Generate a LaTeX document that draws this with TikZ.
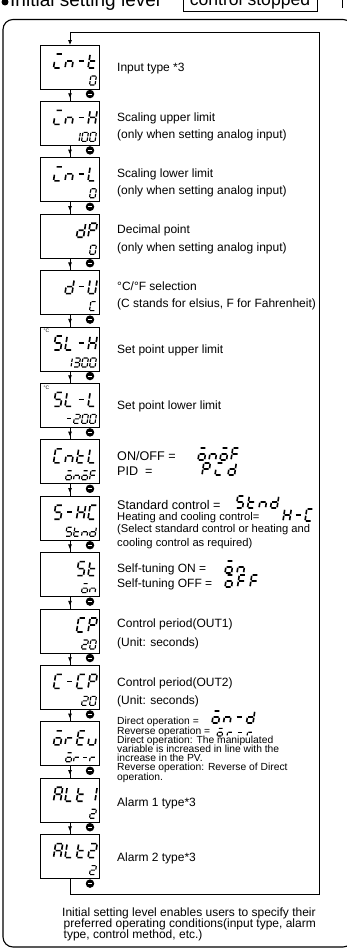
\documentclass[tikz,border=0pt]{standalone}
\usepackage{fontspec}
\setmainfont{Liberation Sans}
\usetikzlibrary{arrows.meta,calc}
\tikzset{
  ssd a/.style={insert path={(0.13,2)--(0.87,2)}},
  ssd b/.style={insert path={(1,1.87)--(1,1.13)}},
  ssd c/.style={insert path={(1,0.87)--(1,0.13)}},
  ssd d/.style={insert path={(0.13,0)--(0.87,0)}},
  ssd e/.style={insert path={(0,0.87)--(0,0.13)}},
  ssd f/.style={insert path={(0,1.87)--(0,1.13)}},
  ssd g/.style={insert path={(0.13,1)--(0.87,1)}},
  ssdc 0/.style={ssd a,ssd b,ssd c,ssd d,ssd e,ssd f},
  ssdc 1/.style={ssd b,ssd c},
  ssdc 2/.style={ssd a,ssd b,ssd g,ssd e,ssd d},
  ssdc 3/.style={ssd a,ssd b,ssd g,ssd c,ssd d},
  ssdc -/.style={ssd g},
  ssdc i/.style={ssd a,ssd e,ssd d},
  ssdc n/.style={ssd c,ssd e,ssd g},
  ssdc t/.style={ssd d,ssd e,ssd f,ssd g},
  ssdc H/.style={ssd b,ssd c,ssd e,ssd f,ssd g},
  ssdc L/.style={ssd d,ssd e,ssd f},
  ssdc d/.style={ssd b,ssd c,ssd d,ssd e,ssd g},
  ssdc P/.style={ssd a,ssd b,ssd e,ssd f,ssd g},
  ssdc S/.style={ssd a,ssd c,ssd d,ssd f,ssd g},
  ssdc U/.style={ssd b,ssd c,ssd d,ssd e,ssd f},
  ssdc u/.style={ssd c,ssd d,ssd e},
  ssdc E/.style={ssd a,ssd d,ssd e,ssd f,ssd g},
  ssdc F/.style={ssd a,ssd e,ssd f,ssd g},
  ssdc r/.style={ssd e,ssd g},
  ssdc A/.style={ssd a,ssd b,ssd c,ssd e,ssd f,ssd g},
  ssdc C/.style={ssd a,ssd d,ssd e,ssd f},
  ssdc o/.style={ssd a,ssd c,ssd d,ssd e,ssd g},
  ssdbig/.style={line width=1.6pt, x={(7pt,0pt)}, y={(1.1pt,7pt)}},
  ssdsmall/.style={line width=1.15pt, x={(5.5pt,0pt)}, y={(0.7pt,4.5pt)}},
  ssdmid/.style={line width=1.6pt, x={(6.5pt,0pt)}, y={(0.9pt,6pt)}},
  ssdmini/.style={line width=1.1pt, x={(5pt,0pt)}, y={(0.6pt,3.8pt)}},
  dbox/.style={draw, line width=0.8pt, minimum width=59pt, minimum height=44pt, inner sep=0pt},
  lbl/.style={anchor=base west, inner sep=0pt, font=\fontsize{12}{14}\selectfont},
  lblb/.style={anchor=base west, inner sep=0pt, font=\fontsize{12.6}{14}\selectfont},
  lbls/.style={anchor=base west, inner sep=0pt, font=\fontsize{11.2}{12}\selectfont},
  lblt/.style={anchor=base west, inner sep=0pt, font=\fontsize{10.3}{11}\selectfont},
  conn/.style={line width=0.8pt},
  tipped/.style={-{Triangle[length=4.5pt,width=3.5pt]}},
  keyic/.style={circle, fill=black, minimum size=8.5pt, inner sep=0pt,
    path picture={\draw[white, line width=0.9pt]
      ([xshift=-2.2pt]path picture bounding box.center) -- ([xshift=2.2pt]path picture bounding box.center);}},
}
\newcommand\ssd[5]{\foreach \ch [count=\ci from 0] in {#5}{\draw[shift={(#1+\ci*#3,#2)}, #4, ssdc \ch];}}
\begin{document}
\begin{tikzpicture}[x=1pt,y=-1pt]
\useasboundingbox (0,0) rectangle (347,950);
% header
\fill (5,2) circle (3.5pt);
\node[anchor=base west, inner sep=0pt, font=\fontsize{19}{20}\selectfont] (hdr) at (10,6.5) {Initial setting level};
\node[draw, line width=0.8pt, anchor=base, inner sep=0pt, minimum width=134pt, text height=22pt, text depth=5pt,
      font=\fontsize{17.6}{20}\selectfont] (hbox) at (250,6) {control stopped};
\draw[line width=0.8pt] (342,-2) -- (342,8);
% outer frame
\draw[line width=1.1pt, rounded corners=10pt] (3,19.5) rectangle (353,947);
% boxes
\foreach \k/\y in {1/67,2/123.4,3/179.8,4/236.2,5/292.6,6/349,7/405.4,8/461.8,9/518.2,10/574.6,11/631,12/687.4,13/743.8,14/800.2,15/856.6}
  \node[dbox] (b\k) at (70,\y) {};
\foreach \k/\y in {1/94,2/150.4,3/206.8,4/263.2,5/319.6,6/376,7/432.4,8/488.8,9/545.2,10/601.6,11/658,12/714.4,13/770.8,14/827.2,15/883.6}
  \node[keyic] (k\k) at (90,\y) {};
% connectors
\foreach \a/\b in {1/2,2/3,3/4,4/5,5/6,6/7,7/8,8/9,9/10,10/11,11/12,12/13,13/14,14/15}{
  \draw[conn] (b\a.south) -- (b\b.north);
  \draw[conn, tipped] (b\a.south) -- ($(b\a.south)!0.72!(b\b.north)$);
}
\coordinate (lt) at (70,32);
\coordinate (rt) at (319,32);
\coordinate (rb) at (319,894);
\coordinate (lb) at (70,894);
\draw[conn] (b15.south) -- (lb) -- (rb) -- (rt) -- (lt);
\draw[conn, tipped] (lt) -- (b1.north);
% seven-segment contents
\ssd{53.5}{68}{11.5}{ssdbig}{i,n,-,t}    \ssd{89.5}{85}{8}{ssdsmall}{0}
\ssd{53.5}{124.4}{11.5}{ssdbig}{i,n,-,H} \ssd{73.5}{141.4}{8}{ssdsmall}{1,0,0}
\ssd{53.5}{180.8}{11.5}{ssdbig}{i,n,-,L} \ssd{89.5}{197.8}{8}{ssdsmall}{0}
\ssd{76.5}{237.2}{11.5}{ssdbig}{d,P}     \ssd{89.5}{254.2}{8}{ssdsmall}{0}
\ssd{65}{293.6}{11.5}{ssdbig}{d,-,U}     \ssd{89.5}{310.6}{8}{ssdsmall}{C}
\ssd{53.5}{350}{11.5}{ssdbig}{S,L,-,H}   \ssd{65.5}{367}{8}{ssdsmall}{1,3,0,0}
\ssd{53.5}{406.4}{11.5}{ssdbig}{S,L,-,L} \ssd{65.5}{423.4}{8}{ssdsmall}{-,2,0,0}
\ssd{53.5}{462.8}{11.5}{ssdbig}{C,n,t,L} \ssd{65.5}{479.8}{8}{ssdsmall}{o,n,o,F}
\ssd{53.5}{519.2}{11.5}{ssdbig}{S,-,H,C} \ssd{65.5}{536.2}{8}{ssdsmall}{S,t,n,d}
\ssd{76.5}{575.6}{11.5}{ssdbig}{S,t}     \ssd{81.5}{592.6}{8}{ssdsmall}{o,n}
\ssd{76.5}{632}{11.5}{ssdbig}{C,P}       \ssd{81.5}{649}{8}{ssdsmall}{2,0}
\ssd{53.5}{688.4}{11.5}{ssdbig}{C,-,C,P} \ssd{81.5}{705.4}{8}{ssdsmall}{2,0}
\ssd{53.5}{744.8}{11.5}{ssdbig}{o,r,E,u} \ssd{65.5}{761.8}{8}{ssdsmall}{o,r,-,r}
\ssd{53.5}{801.2}{11.5}{ssdbig}{A,L,t,1} \ssd{89.5}{818.2}{8}{ssdsmall}{2}
\ssd{53.5}{857.6}{11.5}{ssdbig}{A,L,t,2} \ssd{89.5}{874.6}{8}{ssdsmall}{2}
\node[anchor=north west, inner sep=0pt, font=\fontsize{5}{5}\selectfont] (deg6) at (43.5,329) {°C};
\node[anchor=north west, inner sep=0pt, font=\fontsize{5}{5}\selectfont] (deg7) at (43.5,385.4) {°C};
% inline seven-segment values
\ssd{198}{460}{11}{ssdmid}{o,n,o,F}
\ssd{202}{475}{13}{ssdmid}{P,i,d}
\ssd{236}{508}{11.5}{ssdmid}{S,t,n,d}
\ssd{283}{521}{11}{ssdmid}{H,-,C}
\ssd{225}{573}{12}{ssdmid}{o,n}
\ssd{225}{587}{12.5}{ssdmid}{o,F,F}
\ssd{212}{723}{11.5}{ssdmid}{o,n,-,d}
\ssd{217}{736}{10}{ssdmini}{o,r,-,r}
% labels
\node[lbl] (l1) at (117,71) {Input type *3};
\node[lbl] (l2a) at (117,121) {Scaling upper limit};
\node[lbl] (l2b) at (117,138.4) {(only when setting analog input)};
\node[lbl] (l3a) at (117,177.3) {Scaling lower limit};
\node[lbl] (l3b) at (117,194.8) {(only when setting analog input)};
\node[lbl] (l4a) at (117,233.7) {Decimal point};
\node[lbl] (l4b) at (117,251.2) {(only when setting analog input)};
\node[lbl] (l5a) at (117,290.1) {°C/°F selection};
\node[lbl] (l5b) at (117,307.6) {(C stands for elsius, F for Fahrenheit)};
\node[lbl] (l6) at (117,353) {Set point upper limit};
\node[lbl] (l7) at (117,409.4) {Set point lower limit};
\node[lblb] (l8a) at (117,460.5) {ON/OFF =};
\node[lblb] (l8b) at (117,475) {PID\hspace{7pt}=};
\node[lblb] (l9a) at (117,509) {Standard control =};
\node[lbls] (l9b) at (117,520.5) {Heating and cooling control=};
\node[lbls] (l9c) at (117,532) {(Select standard control or heating and};
\node[lbls] (l9d) at (117,546) {cooling control as required)};
\node[lbl] (l10a) at (117,572.5) {Self-tuning ON =};
\node[lbl] (l10b) at (117,587) {Self-tuning OFF =};
\node[lbl] (l11a) at (117,627) {Control period(OUT1)};
\node[lbl] (l11b) at (117,646) {(Unit: seconds)};
\node[lbl] (l12a) at (117,686) {Control period(OUT2)};
\node[lbl] (l12b) at (117,704) {(Unit: seconds)};
\node[lblt] (l13a) at (117,724.5) {Direct operation =};
\node[lblt] (l13b) at (117,734.5) {Reverse operation =};
\node[lblt] (l13c) at (117,743.5) {Direct operation: The manipulated};
\node[lblt] (l13d) at (117,752.5) {variable is increased in line with the};
\node[lblt] (l13e) at (117,761.5) {increase in the PV.};
\node[lblt] (l13f) at (117,770.5) {Reverse operation: Reverse of Direct};
\node[lblt] (l13g) at (117,780.5) {operation.};
\node[lbl] (l14) at (117,806) {Alarm 1 type*3};
\node[lbl] (l15) at (117,861) {Alarm 2 type*3};
% footer
\node[lbl] (f1) at (62,916) {Initial setting level enables users to specify their};
\node[lbl] (f2) at (63.5,927) {preferred operating conditions(input type, alarm};
\node[lbl] (f3) at (63.5,938) {type, control method, etc.)};
\end{tikzpicture}
\end{document}
